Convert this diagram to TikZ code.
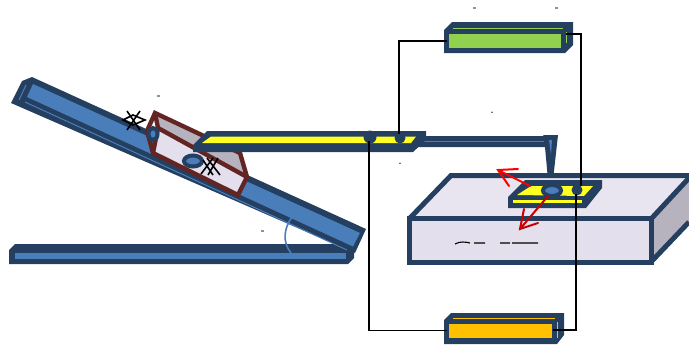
\documentclass[tikz,border=0pt]{standalone}
\usetikzlibrary{arrows.meta}
\definecolor{navy}{HTML}{243F60}
\definecolor{steel}{HTML}{4A7EBB}
\definecolor{brownred}{HTML}{632523}
\definecolor{paleface}{HTML}{E4DFEC}
\definecolor{paletop}{HTML}{E9E5F0}
\definecolor{greyside}{HTML}{B7B3BE}
\definecolor{brightyellow}{HTML}{FFFF22}
\definecolor{gbar}{HTML}{92D050}
\definecolor{obar}{HTML}{FFC000}
\tikzset{
 solid navy/.style={fill=navy,draw=none},
 frame/.style={draw=navy,line width=5pt,line join=miter},
 brownframe/.style={draw=brownred,line width=4.4pt,line join=miter},
 wire/.style={draw=black,line width=1.5pt},
 redarrow/.style={line width=2pt,line cap=round},
 crossmark/.style={draw=black,line width=1.6pt},
 tick/.style={font=\small\bfseries,inner sep=0pt}
}
\begin{document}
\begin{tikzpicture}[x=1pt,y=-1pt]
\useasboundingbox (0,0) rectangle (689,354);
% base plate
\fill[solid navy] (9,250) -- (15,244) -- (354,244) -- (354,258) -- (348,264) -- (9,264) -- cycle;
\fill[steel] (15,253) rectangle (346,259);
% ramp
\fill[solid navy] (11,103) -- (22,81) -- (32,77) -- (366,229) -- (355,253) -- cycle;
\fill[steel] (33,84) -- (360,233) -- (353,246.5) -- (27,97) -- cycle;
\draw[steel,line width=1pt] (25,102) -- (347,250);
\draw[steel,line width=1pt] (19,100) -- (26,85);
% angle arc
\draw[steel,line width=1.6pt] (292,217) .. controls (284,228) and (282,242) .. (291,253);
% slider
\fill[greyside] (154,113) -- (242,155) -- (248,177) -- (159,130) -- cycle;
\fill[paleface] (159,130) -- (248,177) -- (238,196) -- (153,154) -- cycle;
\draw[brownframe] (155,113) -- (240,153) -- (247,177) -- (238,195) -- (153,153) -- (147,131) -- cycle;
\draw[brownframe] (155,113) -- (158,128) -- (247,177);
\draw[brownframe] (158,128) -- (153,153);
\draw[navy,fill=steel,line width=4pt] (153,134) ellipse (4.5 and 6);
\draw[navy,fill=steel,line width=4pt] (193,161) ellipse (9 and 5.5);
% crossing marks
\draw[crossmark] (127,111) -- (140,130) (140,111) -- (127,130);
\draw[crossmark] (123,120) -- (133,115) -- (145,120) -- (133,125) -- cycle;
\draw[crossmark] (201,174) -- (213,158) (207,158) -- (220,175) (203,160) -- (213,175) (218,158) -- (208,175);
% cantilever arm
\fill[solid navy] (415,136) -- (544,136) -- (543,135) -- (558,135) -- (553,180) -- (548,180) -- (545,147) -- (415,147) -- cycle;
\draw[steel,line width=1.2pt] (420,141.5) -- (544,141.5);
\fill[steel] (549,140) -- (552,140) -- (551,155) -- cycle;
% bar
\fill[solid navy] (207,131) -- (426,131) -- (426,140) -- (413,152) -- (193,152) -- (193,145) -- cycle;
\fill[brightyellow] (211,136.5) -- (416,136.5) -- (411,143) -- (202,143) -- cycle;
\fill[navy] (370,137) circle (6.5);
\fill[navy] (400,138) circle (5.5);
% table
\fill[paletop] (408,217) -- (451,175) -- (689,175) -- (651,217) -- cycle;
\fill[greyside] (651,217) -- (689,177) -- (689,222) -- (651,262) -- cycle;
\draw[frame,fill=paleface] (409.5,218.5) rectangle (651,262);
\draw[frame] (409.5,218.5) -- (451,175.5) -- (689,175.5);
\draw[frame] (651,219) -- (689,178);
\draw[frame] (651,262) -- (689,222);
\draw[black,line width=1.1pt] (455,244) .. controls (460,241) and (466,242) .. (470,243) (474,243) -- (485,243) (500,243) -- (510,243) (512,243) -- (538,243);
% sample
\fill[solid navy] (525,180) -- (602,180) -- (602,188) -- (586,208) -- (508,208) -- (508,197) -- cycle;
\fill[brightyellow] (531,186) -- (593,186) -- (584,196) -- (517,195) -- cycle;
\fill[brightyellow] (513,200) rectangle (582,203);
\draw[navy,fill=steel,line width=4pt] (552,190.5) ellipse (9 and 5.5);
\fill[navy] (577,190) circle (5.5);
% red arrows
\draw[redarrow,red] (530,186) -- (498,170) (518,169) -- (498,170) -- (509,186);
\draw[redarrow,red!78!black] (548,196) -- (520,229) (524,209) -- (520,229) -- (538,223);
% green box
\fill[solid navy] (444,30) -- (452,22) -- (573,22) -- (573,45) -- (565,53) -- (444,53) -- cycle;
\fill[gbar] (449,34) rectangle (561,48);
\draw[gbar,line width=.9pt] (453,28) -- (563,28) (566,32) -- (566,43);
% orange box
\fill[solid navy] (444,320) -- (451,313) -- (564,313) -- (564,335) -- (557,344) -- (444,344) -- cycle;
\fill[obar] (449,324) rectangle (552,338);
\draw[obar,line width=.9pt] (453,318) -- (555,318) (557.5,322) -- (557.5,338);
% anchors for wires
\coordinate (greenL) at (447,41);
\coordinate (greenR) at (566,34);
\coordinate (padA) at (399,134);
\coordinate (padB) at (369,141);
\coordinate (pinA) at (581,186);
\coordinate (pinB) at (576,194);
\coordinate (orL) at (447,330.5);
\coordinate (orR) at (553,330);
\draw[wire] (greenL) -| (padA);
\draw[wire] (greenR) -| (pinA);
\draw[wire] (padB) |- (orL);
\draw[wire] (pinB) |- (orR);
% clipped label fragments
\node[tick] (t1) at (159,97) {-};
\node[tick] (t2) at (263,232) {-};
\node[tick] (t3) at (475,9.5) {-};
\node[tick] (t4) at (557,9.5) {-};
\node[tick] (t5) at (492,113) {.};
\node[tick] (t6) at (400,164) {.};
\end{tikzpicture}
\end{document}
